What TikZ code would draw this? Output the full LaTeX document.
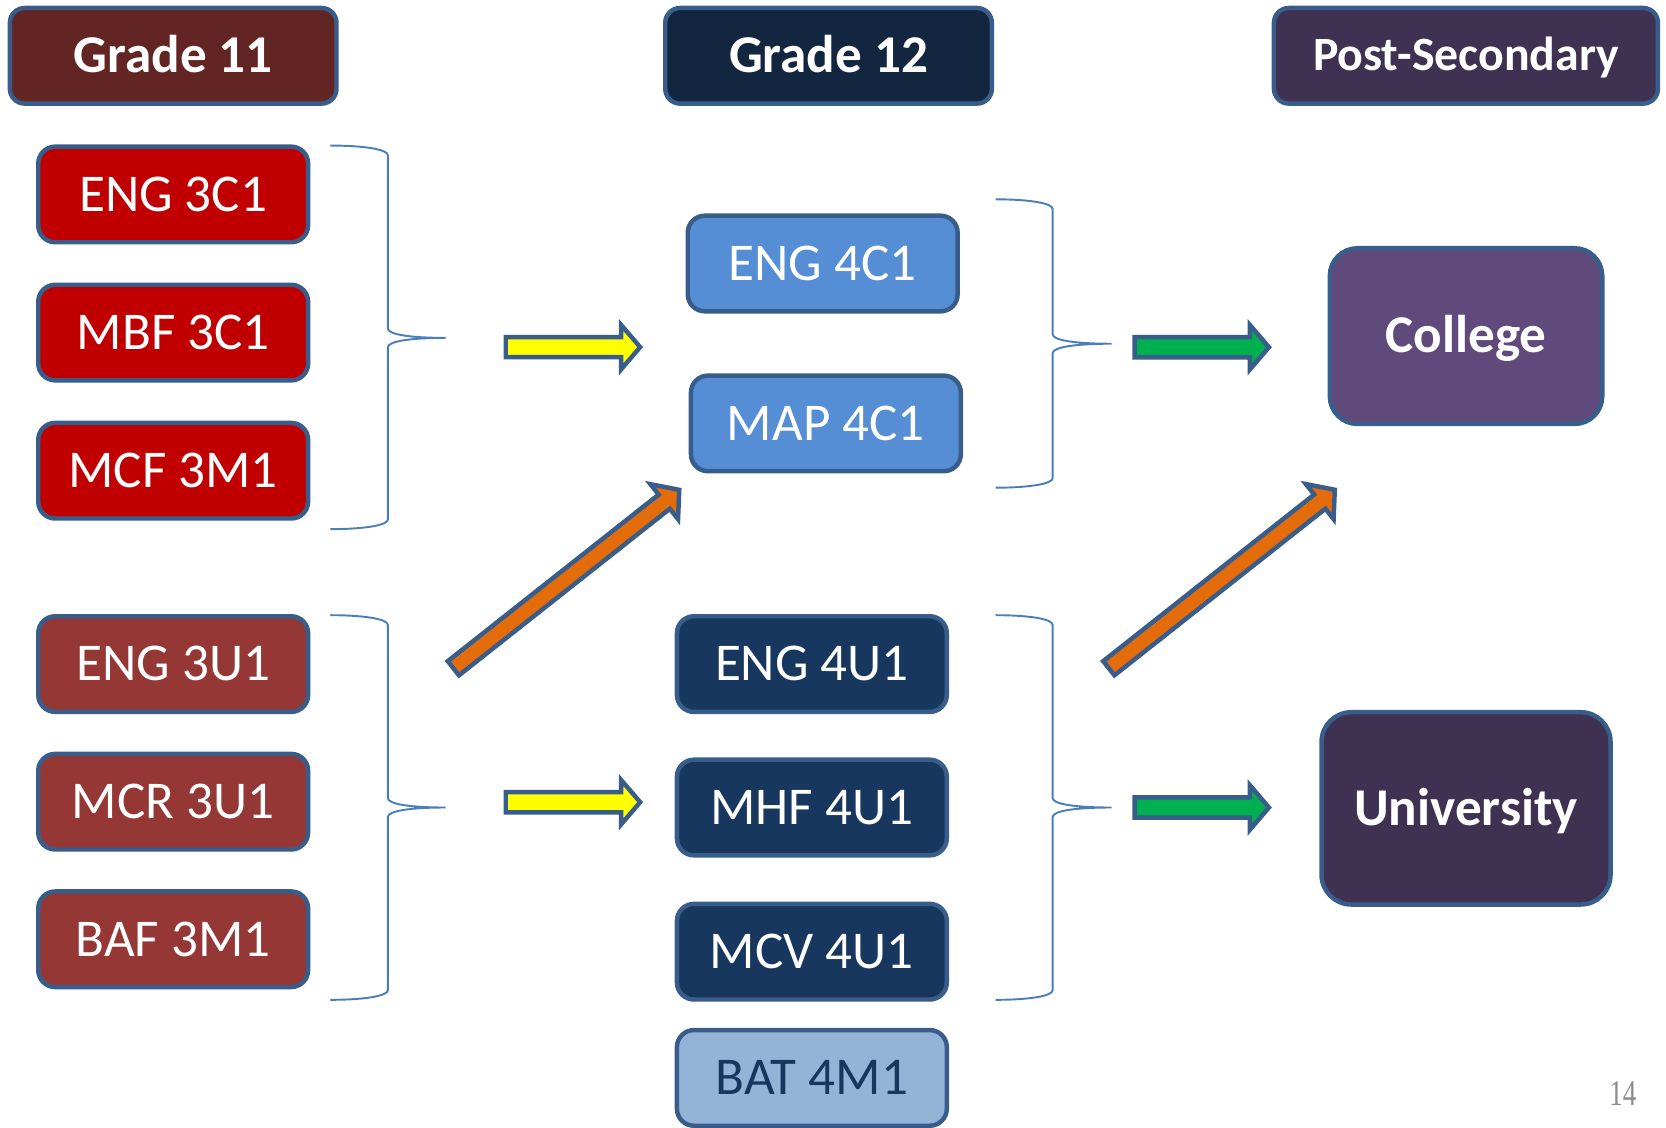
\documentclass[tikz,border=0pt]{standalone}
\usepackage{fontspec}
\setmainfont{Carlito}
\newfontfamily\pagefont[FakeStretch=0.75]{Liberation Serif}
\definecolor{bordc}{HTML}{385D8A}
\definecolor{gelevenc}{HTML}{632523}
\definecolor{gtwelvec}{HTML}{12263F}
\definecolor{psc}{HTML}{3F3151}
\definecolor{cthreec}{HTML}{C00000}
\definecolor{uthreec}{HTML}{953735}
\definecolor{cfourc}{HTML}{558ED5}
\definecolor{ufourc}{HTML}{17375E}
\definecolor{batc}{HTML}{95B3D7}
\definecolor{colc}{HTML}{604A7B}
\definecolor{univc}{HTML}{3F3151}
\definecolor{brc}{HTML}{4A7EBB}
\definecolor{yelc}{HTML}{FFFF00}
\definecolor{grnc}{HTML}{00B050}
\definecolor{orgc}{HTML}{E46C0A}
\definecolor{pgc}{HTML}{8C8C8C}
\newcommand\blockarrow[6]{%
  \begin{scope}[shift={(#1,#2)}, rotate=#3]
    \draw[barrow, fill=#6] (0,-#5) -- ({#4-18},-#5) -- ({#4-18},-21) -- (#4,0)
      -- ({#4-18},21) -- ({#4-18},#5) -- (0,#5) -- cycle;
  \end{scope}}
\newcommand\rbr[7]{%
  \draw[brace] (#2,#5) .. controls ({#2+34},#5) and (#3,{#5+4}) .. (#3,{#5+9})
    -- (#3,{#6-9}) .. controls (#3,{#6-3}) and ({#3+22},#6) .. (#4,#6) coordinate (#1)
    .. controls ({#3+22},#6) and (#3,{#6+3}) .. (#3,{#6+9})
    -- (#3,{#7-9}) .. controls (#3,{#7-4}) and ({#2+34},#7) .. (#2,#7);}
\begin{document}
\begin{tikzpicture}[x=0.5pt,y=-0.5pt,
  box/.style={draw=bordc, line width=2.1pt, rounded corners=8pt, inner sep=0pt,
    minimum width=127pt, minimum height=45pt, text=white,
    font=\fontsize{25}{30}\selectfont, text height=15.8pt, text depth=0pt},
  head/.style={box, rounded corners=7pt, minimum width=153.7pt,
    font=\bfseries\fontsize{25}{30}\selectfont},
  big/.style={box, rounded corners=13pt, font=\bfseries\fontsize{25}{30}\selectfont},
  brace/.style={draw=brc, line width=0.9pt},
  barrow/.style={draw=bordc, line width=2.1pt}
]
\useasboundingbox (0,0) rectangle (1568,1061);

% headers
\node[head, fill=gelevenc] (g11) at (163,52.5) {Grade 11};
\node[head, fill=gtwelvec] (g12) at (779.8,52.5) {Grade 12};
\node[head, fill=psc, minimum width=180.7pt, text height=14.2pt,
  font=\bfseries\fontsize{22.5}{27}\selectfont] (ps) at (1379.7,52.5) {Post-Secondary};

% grade 11 courses
\node[box, fill=cthreec] (eng3c) at (163,183) {ENG 3C1};
\node[box, fill=cthreec] (mbf3c) at (163,313) {MBF 3C1};
\node[box, fill=cthreec] (mcf3m) at (163,443) {MCF 3M1};
\node[box, fill=uthreec] (eng3u) at (163,625) {ENG 3U1};
\node[box, fill=uthreec] (mcr3u) at (163,754.5) {MCR 3U1};
\node[box, fill=uthreec] (baf3m) at (163,884) {BAF 3M1};

% grade 12 courses
\node[box, fill=cfourc] (eng4c) at (774.3,248) {ENG 4C1};
\node[box, fill=cfourc] (map4c) at (777.3,398.5) {MAP 4C1};
\node[box, fill=ufourc] (eng4u) at (764.1,625) {ENG 4U1};
\node[box, fill=ufourc] (mhf4u) at (764.1,760) {MHF 4U1};
\node[box, fill=ufourc] (mcv4u) at (764.1,895.7) {MCV 4U1};
\node[box, fill=batc, text=ufourc] (bat4m) at (764.1,1014.5) {BAT 4M1};

% post-secondary
\node[big, fill=colc, minimum width=128.2pt, minimum height=82.7pt] (college) at (1379.8,316.3) {College};
\node[big, fill=univc, rounded corners=14pt, minimum width=136pt, minimum height=90.5pt] (univ) at (1379.8,760.8) {University};

% braces
\rbr{b1}{311}{365}{419.5}{137}{318}{498}
\rbr{b2}{311}{365}{419.5}{579}{760}{941}
\rbr{b3}{937}{990.7}{1046.3}{187.6}{323.5}{459}
\rbr{b4}{937}{990.7}{1046.3}{579}{760}{941}

% block arrows
\blockarrow{476}{326.7}{0}{126.5}{9.5}{yelc}
\blockarrow{476}{755}{0}{126.5}{9.5}{yelc}
\blockarrow{1067.8}{326.8}{0}{126.5}{9.5}{grnc}
\blockarrow{1067.8}{760}{0}{126.5}{9.5}{grnc}
\blockarrow{426.7}{628.9}{38.3}{270.9}{8.5}{orgc}
\blockarrow{1043.6}{628.9}{38.3}{271}{8.5}{orgc}

% page number
\node[text=pgc, font=\pagefont\fontsize{17}{20}\selectfont, inner sep=0pt] (pg) at (1527.5,1029.5) {14};
\end{tikzpicture}
\end{document}
